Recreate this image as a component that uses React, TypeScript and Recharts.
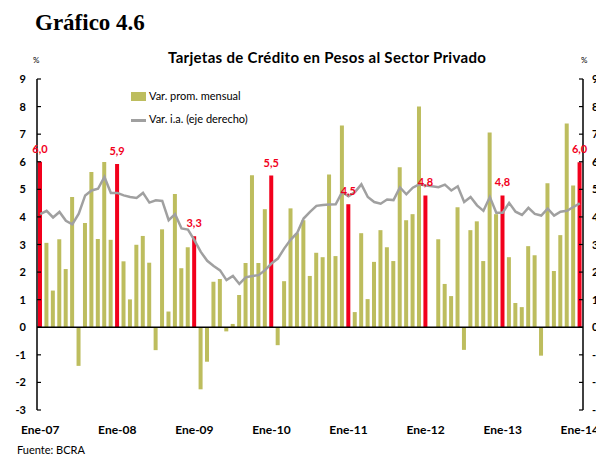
import { ComposedChart, Bar, Line, XAxis, YAxis, ReferenceLine, Cell, LabelList } from "recharts";

const years = ["07", "08", "09", "10", "11", "12", "13", "14"];
const monthNames = ["Ene", "Feb", "Mar", "Abr", "May", "Jun", "Jul", "Ago", "Sep", "Oct", "Nov", "Dic"];
const months = years.flatMap((y) => monthNames.map((m) => `${m}-${y}`)).slice(0, 85);

// Var. prom. mensual (%), eje izquierdo
const varPromMensual = [
  6.0, 3.06, 1.33, 3.19, 2.11, 4.72, -1.4, 3.78, 5.63, 3.2, 5.99, 3.17,
  5.92, 2.39, 1.01, 2.99, 3.31, 2.34, -0.83, 3.55, 0.57, 4.83, 2.14, 2.9,
  3.3, -2.25, -1.25, 1.65, 1.75, -0.15, 0.12, 1.17, 2.33, 5.51, 2.33, 4.28,
  5.5, -0.65, 1.67, 4.31, 3.41, 3.88, 1.86, 2.7, 2.54, 5.54, 2.58, 7.31,
  4.46, 0.55, 3.41, 1.02, 2.37, 3.52, 2.9, 2.4, 5.8, 3.88, 4.1, 8.0,
  4.78, 0, 3.19, 1.57, 1.13, 4.35, -0.82, 3.52, 3.84, 2.4, 7.06, 4.1,
  4.78, 2.54, 0.88, 0.73, 2.94, 2.61, -1.03, 5.22, 2.04, 3.34, 7.39, 5.14,
  5.98,
];

// Var. i.a. (%), eje derecho
const varIA = [
  41.0, 42.2, 39.8, 41.8, 38.6, 37.3, 41.2, 47.8, 49.6, 50.2, 54.5, 48.7,
  48.7, 47.8, 47.2, 46.9, 48.7, 45.2, 46.0, 45.8, 38.8, 41.0, 35.8, 35.4,
  31.6, 27.3, 24.1, 22.2, 20.6, 17.1, 18.6, 15.7, 18.1, 18.6, 18.9, 20.7,
  23.1, 24.9, 28.6, 31.8, 34.2, 39.4, 41.8, 44.0, 44.3, 44.5, 44.6, 49.0,
  47.5, 49.0, 51.8, 47.2, 45.4, 44.8, 46.3, 46.1, 50.7, 48.2, 50.6, 51.8,
  51.4, 51.1, 50.8, 51.7, 49.6, 51.1, 45.4, 47.2, 44.2, 42.2, 47.2, 41.5,
  41.5, 45.1, 41.9, 40.7, 43.3, 41.1, 40.5, 43.0, 40.5, 41.9, 42.2, 43.6,
  44.9,
];

const xTicks = ["Ene-07", "Ene-08", "Ene-09", "Ene-10", "Ene-11", "Ene-12", "Ene-13", "Ene-14"];
const leftTicks = [-3, -2, -1, 0, 1, 2, 3, 4, 5, 6, 7, 8, 9];
const rightTicks = [-30, -20, -10, 0, 10, 20, 30, 40, 50, 60, 70, 80, 90];

const data = months.map((m, i) => ({
  month: m,
  mensual: varPromMensual[i],
  ia: varIA[i],
  janLabel: m.startsWith("Ene") ? varPromMensual[i].toFixed(1).replace(".", ",") : "",
}));

const font = "Lato, 'DejaVu Sans', sans-serif";
const olive = "#BDBD5E";
const red = "#F2001C";

const LeftTick = (props: any) => {
  const { x, y, payload } = props;
  return (
    <g>
      <line x1={x} x2={x + 4} y1={y} y2={y} stroke="#000" strokeWidth={1.2} />
      <text x={x - 11} y={y} dy={4} textAnchor="end" fontSize={11} fontWeight={700} fontFamily={font} fill="#000">
        {payload.value}
      </text>
    </g>
  );
};

const RightTick = (props: any) => {
  const { x, y, payload } = props;
  return (
    <g>
      <line x1={x - 4} x2={x} y1={y} y2={y} stroke="#000" strokeWidth={1.2} />
      <text x={x + 9} y={y} dy={4} textAnchor="start" fontSize={11} fontWeight={700} fontFamily={font} fill="#000">
        {payload.value}
      </text>
    </g>
  );
};

const BottomTick = (props: any) => {
  const { x, y, payload } = props;
  return (
    <text x={x} y={y + 24} textAnchor="middle" fontSize={12} fontWeight={700} fontFamily={font} fill="#000">
      {payload.value}
    </text>
  );
};

const JanLabel = (props: any) => {
  const { x, y, width, value } = props;
  if (!value) return null;
  return (
    <text x={x + width / 2} y={y - 9} textAnchor="middle" fontSize={11} fontWeight={700} fontFamily={font} fill={red}>
      {value}
    </text>
  );
};

const App = () => {
  return (
    <div style={{ position: "absolute", left: 0, top: 0, width: 596, height: 457, overflow: "hidden", background: "#fff" }}>
      <div style={{ position: "absolute", left: 35, top: 10, fontFamily: "'Liberation Serif', serif", fontWeight: 700, fontSize: 23 }}>
        Gráfico 4.6
      </div>
      <div style={{ position: "absolute", left: 168, top: 48, fontFamily: font, fontWeight: 700, fontSize: 15, letterSpacing: 0.3 }}>
        Tarjetas de Crédito en Pesos al Sector Privado
      </div>
      <div style={{ position: "absolute", left: 33, top: 55, fontFamily: font, fontSize: 8 }}>%</div>
      <div style={{ position: "absolute", left: 581, top: 55, fontFamily: font, fontSize: 8 }}>%</div>

      <div style={{ position: "absolute", left: 131, top: 92, width: 15, height: 9, background: olive }} />
      <div style={{ position: "absolute", left: 149, top: 89, fontFamily: font, fontSize: 11 }}>Var. prom. mensual</div>
      <div style={{ position: "absolute", left: 131, top: 119, width: 15, height: 2.5, background: "#A0A0A0" }} />
      <div style={{ position: "absolute", left: 149, top: 112, fontFamily: font, fontSize: 11 }}>Var. i.a. (eje derecho)</div>

      <div style={{ position: "absolute", left: 17, top: 443, fontFamily: font, fontSize: 11 }}>Fuente: BCRA</div>

      <div style={{ position: "absolute", left: 0, top: 0 }}>
        <ComposedChart width={596} height={457} data={data} margin={{ top: 79, right: 0, bottom: 17, left: 10 }} barCategoryGap={0}>
          <XAxis
            dataKey="month"
            ticks={xTicks}
            interval={0}
            axisLine={false}
            tickLine={false}
            tickSize={0}
            tickMargin={0}
            height={30}
            tick={<BottomTick />}
          />
          <YAxis
            yAxisId="left"
            domain={[-3, 9]}
            ticks={leftTicks}
            interval={0}
            width={27}
            tickSize={0}
            tickMargin={0}
            tickLine={false}
            axisLine={{ stroke: "#000", strokeWidth: 1.5 }}
            tick={<LeftTick />}
          />
          <YAxis
            yAxisId="right"
            orientation="right"
            domain={[-30, 90]}
            ticks={rightTicks}
            interval={0}
            width={13}
            tickSize={0}
            tickMargin={0}
            tickLine={false}
            axisLine={{ stroke: "#000", strokeWidth: 1.5 }}
            tick={<RightTick />}
          />
          <ReferenceLine yAxisId="left" y={0} stroke="#000" strokeWidth={1.5} />
          <Bar yAxisId="left" dataKey="mensual" barSize={4} isAnimationActive={false}>
            {data.map((d) => (
              <Cell key={d.month} fill={d.janLabel ? red : olive} />
            ))}
            <LabelList dataKey="janLabel" content={<JanLabel />} />
          </Bar>
          <Line
            yAxisId="right"
            dataKey="ia"
            type="linear"
            stroke="#A0A0A0"
            strokeWidth={2.5}
            dot={false}
            isAnimationActive={false}
          />
        </ComposedChart>
      </div>
    </div>
  );
};

export default App;
